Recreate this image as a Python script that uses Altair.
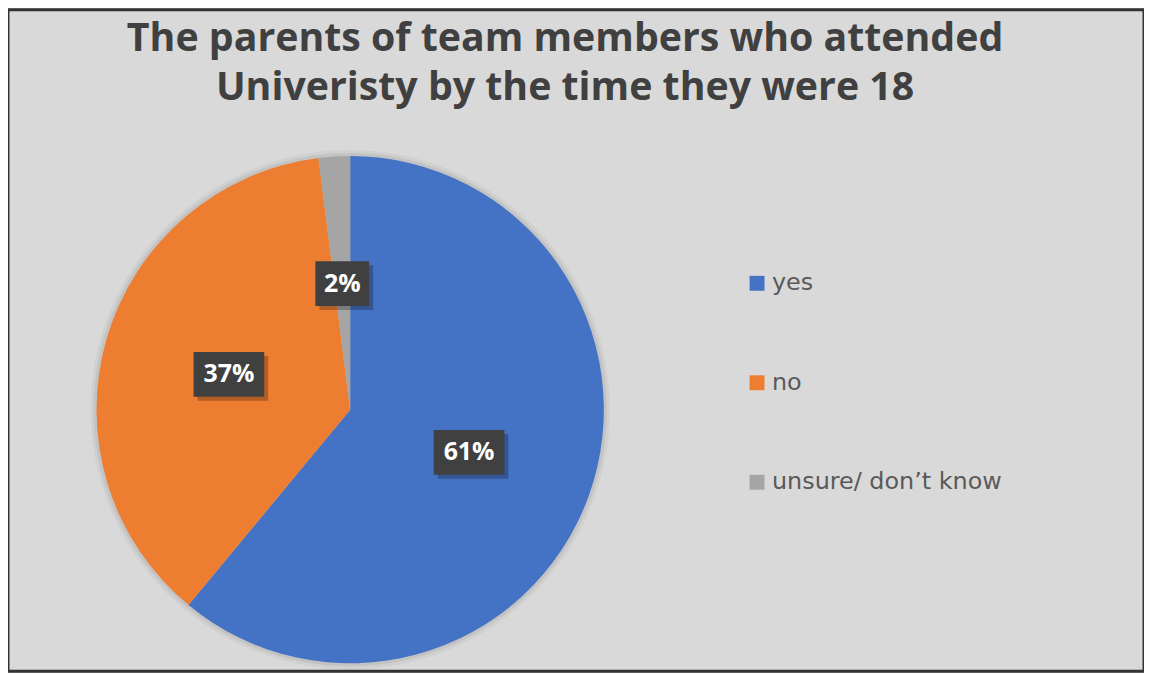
import altair as alt
import pandas as pd

TITLE_LINES = ["The parents of team members who attended", "Univeristy by the time they were 18"]
CATEGORIES = ["yes", "no", "unsure/ don\u2019t know"]
VALUES = [61, 37, 2]
LABELS = ["61%", "37%", "2%"]
COLORS = ["#4472c4", "#ed7d31", "#a5a5a5"]

CX, CY, R, LR = 344, 402, 255, 127

df = pd.DataFrame({"category": CATEGORIES, "value": VALUES, "label": LABELS, "idx": list(range(len(VALUES)))})
base = alt.Chart(df)

color = alt.Color(
    "category:N",
    scale=alt.Scale(domain=CATEGORIES, range=COLORS),
    legend=alt.Legend(
        orient="none", legendX=741, legendY=263, title=None, symbolType="square",
        symbolSize=225, symbolStrokeWidth=0, labelFontSize=24, labelFont="DejaVu Sans",
        labelColor="#595959", rowPadding=76, labelOffset=3, padding=0, labelLimit=0,
    ),
)

shadow_df = pd.DataFrame({"a": [0]})
pie_shadow1 = alt.Chart(shadow_df).mark_arc(theta=0, theta2=6.2832, radius=261, color="#000000", opacity=0.04).encode(
    x=alt.value(CX), y=alt.value(CY))
pie_shadow2 = alt.Chart(shadow_df).mark_arc(theta=0, theta2=6.2832, radius=258, color="#000000", opacity=0.06).encode(
    x=alt.value(CX), y=alt.value(CY))

pie = base.mark_arc(outerRadius=R).encode(
    theta=alt.Theta("value:Q", stack=True),
    color=color,
    order=alt.Order("idx:Q"),
    x=alt.value(CX), y=alt.value(CY),
)

pos = base.transform_window(
    cum="sum(value)", sort=[alt.SortField("idx")], frame=[None, 0]
).transform_joinaggregate(total="sum(value)").transform_calculate(
    mid=f"(datum.cum - datum.value/2)/datum.total*2*PI",
    hw="10 + 8.5*length(datum.label)",
).transform_calculate(
    bx=f"{CX} + {LR}*sin(datum.mid)",
    by=f"{CY} - {LR}*cos(datum.mid)",
).transform_calculate(
    x1="datum.bx - datum.hw", x2="datum.bx + datum.hw",
    y1="datum.by - 22.5", y2="datum.by + 22.5",
    sx1="datum.bx - datum.hw + 4", sx2="datum.bx + datum.hw + 4",
    sy1="datum.by - 22.5 + 4", sy2="datum.by + 22.5 + 4",
)

box_shadow = pos.mark_rect(color="#000000", opacity=0.25).encode(
    x=alt.X("sx1:Q", scale=None, axis=None), x2="sx2:Q",
    y=alt.Y("sy1:Q", scale=None, axis=None), y2="sy2:Q",
)
box = pos.mark_rect(color="#404040").encode(
    x=alt.X("x1:Q", scale=None, axis=None), x2="x2:Q",
    y=alt.Y("y1:Q", scale=None, axis=None), y2="y2:Q",
)
label_text = pos.mark_text(font="Open Sans", fontWeight="bold", fontSize=25, color="#ffffff",
                           align="center", baseline="middle").encode(
    x=alt.X("bx:Q", scale=None, axis=None), y=alt.Y("by:Q", scale=None, axis=None), text="label:N",
)

title_df = pd.DataFrame({"line": TITLE_LINES, "i": list(range(len(TITLE_LINES)))})
title = alt.Chart(title_df).transform_calculate(ty="41 + 50*datum.i").mark_text(
    font="Open Sans", fontWeight="bold", fontSize=39.5, color="#404040", align="center", baseline="alphabetic"
).encode(x=alt.value(560), y=alt.Y("ty:Q", scale=None, axis=None), text="line:N")

chart = alt.layer(pie_shadow1, pie_shadow2, pie, box_shadow, box, label_text, title).properties(
    width=1142, height=665, background="#d9d9d9", padding=0, autosize="none"
).configure_view(stroke="#333333", strokeWidth=3)

chart.save("out.html", embed_options={"renderer": "svg", "actions": False})
